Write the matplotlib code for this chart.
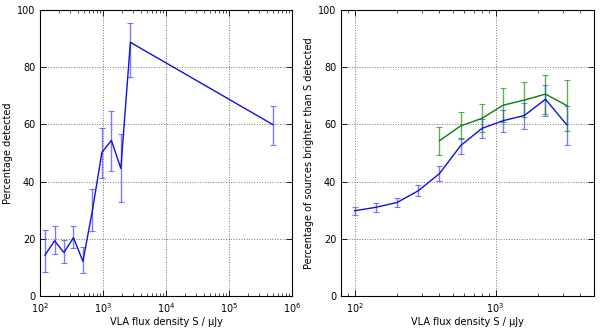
import numpy as np
import matplotlib
matplotlib.use("Agg")
import matplotlib.pyplot as plt

# Left panel: detection fraction per flux bin
flux_left = [120, 170, 240, 340, 480, 680, 960, 1360, 1920, 2720, 5.0e5]
pct_left = [14.3, 19.3, 15.2, 20.4, 12.1, 30.0, 50.2, 54.4, 44.6, 88.7, 59.9]
err_lo_left = [5.9, 4.7, 3.6, 3.6, 4.0, 7.3, 9.1, 10.7, 11.8, 12.0, 7.2]
err_hi_left = [8.7, 5.3, 4.5, 4.2, 5.1, 7.3, 8.6, 10.2, 11.9, 6.6, 6.7]

# Right panel: cumulative fraction brighter than S
flux_right = [100, 141, 200, 283, 400, 566, 800, 1131, 1600, 2263, 3200]
pct_blue = [29.8, 31.0, 32.7, 36.8, 42.8, 52.6, 58.6, 61.3, 63.1, 68.8, 59.9]
err_blue_lo = [1.5, 1.8, 1.5, 1.9, 2.6, 3.0, 3.5, 4.1, 4.8, 5.8, 7.2]
err_blue_hi = [1.4, 1.4, 1.6, 1.9, 2.6, 2.5, 3.3, 3.8, 4.3, 4.9, 6.7]

flux_green = [400, 566, 800, 1131, 1600, 2263, 3200]
pct_green = [54.3, 59.5, 62.1, 66.7, 68.5, 70.6, 66.6]
err_green_lo = [5.0, 4.7, 4.7, 6.0, 6.0, 6.9, 8.8]
err_green_hi = [4.7, 4.8, 5.0, 6.1, 6.4, 6.6, 8.8]

plt.rcParams["font.size"] = 7
plt.rcParams["font.family"] = "DejaVu Sans"

fig = plt.figure(figsize=(6.0, 3.33), dpi=100)
ax1 = fig.add_axes([40 / 600, 37 / 333, 252 / 600, 286 / 333])
ax2 = fig.add_axes([341 / 600, 37 / 333, 253 / 600, 286 / 333])


def style(ax):
    ax.set_xscale("log")
    ax.set_ylim(0, 100)
    ax.set_yticks([0, 20, 40, 60, 80, 100])
    ax.grid(True, which="major", linestyle=":", color="0.45", linewidth=0.7)
    ax.tick_params(which="both", direction="in", top=True, right=True)
    ax.tick_params(which="major", length=4, width=0.6)
    ax.tick_params(which="minor", length=2, width=0.5)
    for s in ax.spines.values():
        s.set_linewidth(0.8)
    ax.set_xlabel("VLA flux density S / \u03bcJy", labelpad=2)


ax1.errorbar(flux_left, pct_left, yerr=[err_lo_left, err_hi_left],
             color="#1010e0", ecolor=(0.3, 0.3, 1.0, 0.75), elinewidth=1.0,
             capsize=2, capthick=0.8, linewidth=1.0)
style(ax1)
ax1.set_xlim(1e2, 1e6)
ax1.set_ylabel("Percentage detected", labelpad=3)

ax2.errorbar(flux_right, pct_blue, yerr=[err_blue_lo, err_blue_hi],
             color="#1010e0", ecolor=(0.3, 0.3, 1.0, 0.75), elinewidth=1.0,
             capsize=2, capthick=0.8, linewidth=1.0)
ax2.errorbar(flux_green, pct_green, yerr=[err_green_lo, err_green_hi],
             color="#107a10", ecolor=(0.1, 0.55, 0.1, 0.7), elinewidth=1.0,
             capsize=2, capthick=0.8, linewidth=1.0)
style(ax2)
ax2.set_xlim(80, 5000)
ax2.set_ylabel("Percentage of sources brighter than S detected", labelpad=3)

fig.savefig("out.png", dpi=100)
